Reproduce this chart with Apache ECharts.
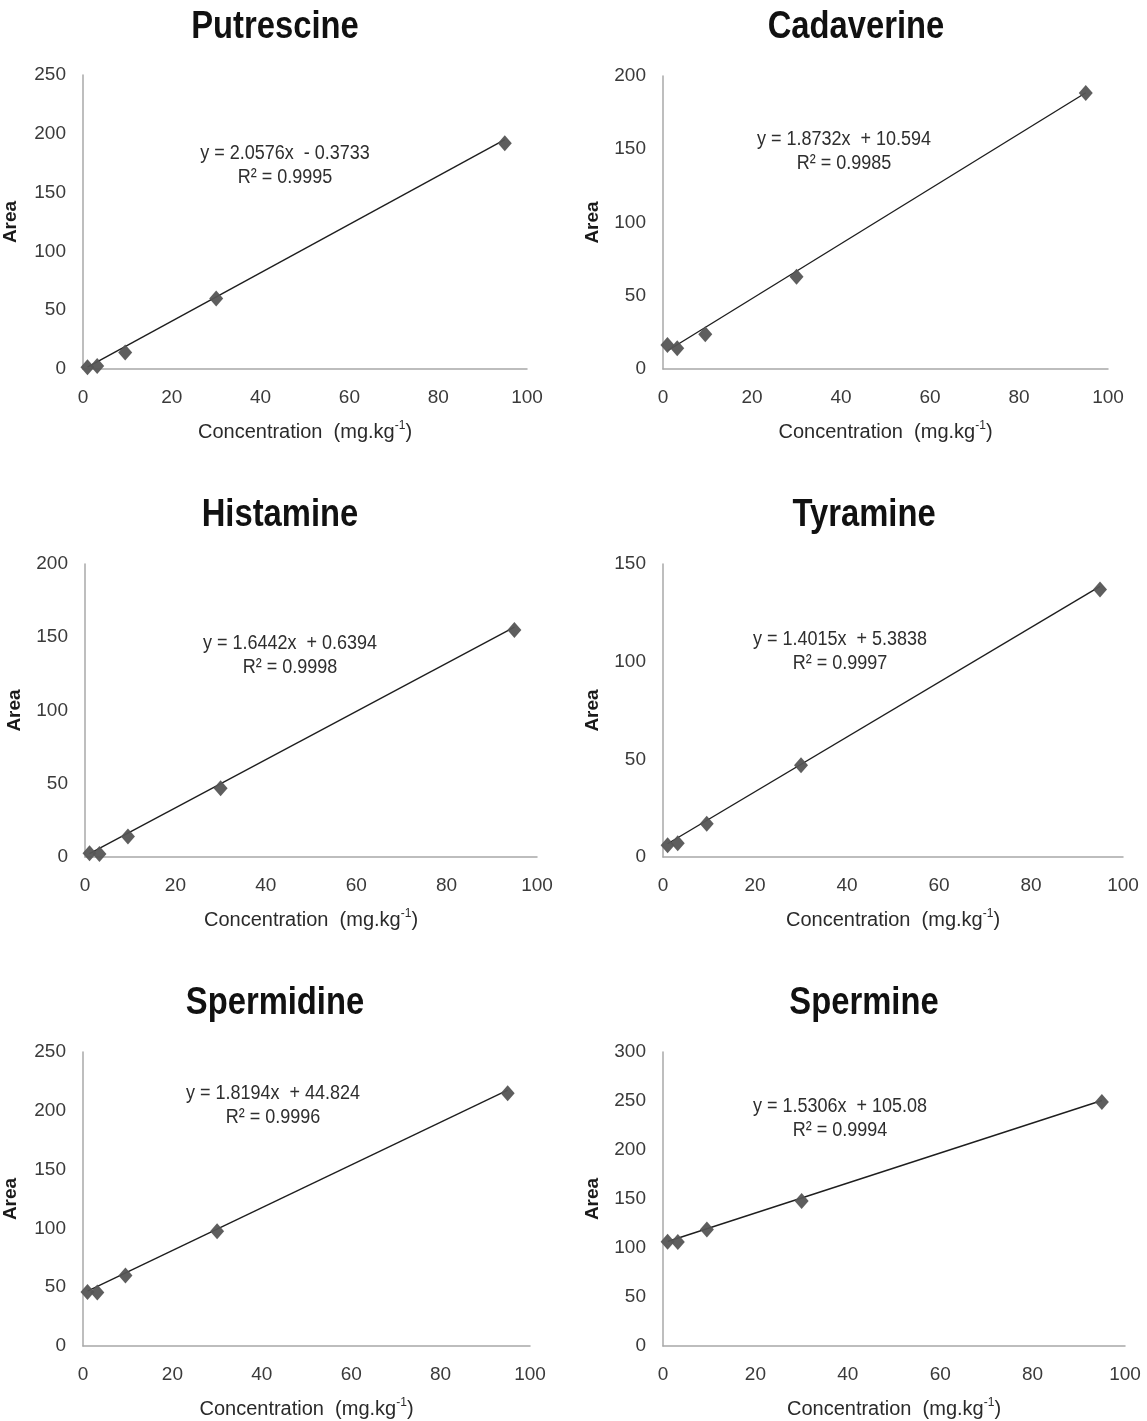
<!DOCTYPE html>
<html>
<head>
<meta charset="utf-8">
<script src="https://cdn.jsdelivr.net/npm/echarts@6/dist/echarts.min.js"></script>
<style>
html,body{margin:0;padding:0;background:#fff;}
#chart{width:1147px;height:1421px;}
</style>
</head>
<body>
<div id="chart"></div>
<script>
// ---- data ----
const panelNames = ['Putrescine', 'Cadaverine', 'Histamine', 'Tyramine', 'Spermidine', 'Spermine'];
const concentrations = [1, 3.2, 9.5, 30, 95];
const putrescineArea = [1.5, 2.5, 14, 60, 192];
const cadaverineArea = [16.4, 14.1, 23.7, 63, 188.4];
const histamineArea = [2.5, 2, 14, 47, 155];
const tyramineArea = [6, 7, 17, 47, 137];
const spermidineArea = [46, 45.5, 60, 97.5, 215];
const spermineArea = [106.5, 106, 119, 148, 249];
const areaSeries = [putrescineArea, cadaverineArea, histamineArea, tyramineArea, spermidineArea, spermineArea];
const slopes = [2.0576, 1.8732, 1.6442, 1.4015, 1.8194, 1.5306];
const intercepts = [-0.3733, 10.594, 0.6394, 5.3838, 44.824, 105.08];
const equationTexts = ['y = 2.0576x  - 0.3733', 'y = 1.8732x  + 10.594', 'y = 1.6442x  + 0.6394', 'y = 1.4015x  + 5.3838', 'y = 1.8194x  + 44.824', 'y = 1.5306x  + 105.08'];
const r2Texts = ['R² = 0.9995', 'R² = 0.9985', 'R² = 0.9998', 'R² = 0.9997', 'R² = 0.9996', 'R² = 0.9994'];
const yMax = [250, 200, 200, 150, 250, 300];
const xTicks = [0, 20, 40, 60, 80, 100];

// ---- layout ----
const grids = [
  {left: 81, top: 75, width: 446, height: 294},
  {left: 663, top: 76, width: 445, height: 293},
  {left: 85, top: 564, width: 452, height: 293},
  {left: 663, top: 564, width: 460, height: 293},
  {left: 81, top: 1052, width: 449, height: 294},
  {left: 663, top: 1052, width: 462, height: 294}
];
const titlePos = [[275, 27], [856, 27], [280, 515], [864, 515], [275, 1003], [864, 1003]];
const eqPos = [[285, 153], [844, 139], [290, 643], [840, 639], [273, 1093], [840, 1106]];
const areaGap = [63, 61, 61, 61, 63, 61];

const FONT = '"Liberation Sans Narrow", "Arial Narrow", "Liberation Sans", Arial, sans-serif';

const chart = echarts.init(document.getElementById('chart'));

const xAxes = [], yAxes = [], series = [], graphics = [];
grids.forEach((g, i) => {
  xAxes.push({
    gridIndex: i, type: 'value', min: xTicks[0], max: xTicks[xTicks.length - 1], interval: 20,
    splitLine: {show: false}, axisTick: {show: false},
    axisLine: {lineStyle: {color: '#a8a8a8', width: 1.5}},
    axisLabel: {margin: 19, fontFamily: FONT, fontSize: 19, color: '#3a3a3a'},
    name: '{n|Concentration  (mg.kg}{s|-1}{n|)}',
    nameLocation: 'middle', nameGap: 51,
    nameTextStyle: {
      rich: {
        n: {fontFamily: FONT, fontSize: 20, color: '#2a2a2a', verticalAlign: 'bottom', lineHeight: 22},
        s: {fontFamily: FONT, fontSize: 12, color: '#2a2a2a', verticalAlign: 'top', lineHeight: 22, padding: [0, 0, 10, 0]}
      }
    }
  });
  yAxes.push({
    gridIndex: i, type: 'value', min: 0, max: yMax[i], interval: 50,
    splitLine: {show: false}, axisTick: {show: false},
    axisLine: {show: true, lineStyle: {color: '#a8a8a8', width: 1.5}},
    axisLabel: {margin: 17, fontFamily: FONT, fontSize: 19, color: '#3a3a3a'},
    name: 'Area', nameLocation: 'middle', nameGap: areaGap[i], nameRotate: 90,
    nameTextStyle: {fontFamily: 'Liberation Sans, Arial, sans-serif', fontWeight: 'bold', fontSize: 19, color: '#1a1a1a'}
  });
  const xs = concentrations;
  const x0 = xs[0], x1 = xs[xs.length - 1];
  series.push({
    type: 'line', xAxisIndex: i, yAxisIndex: i, silent: true,
    symbol: 'none', lineStyle: {color: '#1e1e1e', width: 1.4}, z: 2,
    data: [[x0, slopes[i] * x0 + intercepts[i]], [x1, slopes[i] * x1 + intercepts[i]]]
  });
  series.push({
    type: 'scatter', xAxisIndex: i, yAxisIndex: i, symbol: 'diamond', symbolSize: [14, 16],
    itemStyle: {color: '#555555', opacity: 0.95}, z: 3,
    data: xs.map((x, k) => [x, areaSeries[i][k]])
  });
  graphics.push({
    type: 'text', x: titlePos[i][0], y: titlePos[i][1], scaleX: 0.84,
    style: {text: panelNames[i], font: 'bold 39px ' + FONT, fill: '#111', textAlign: 'center', textVerticalAlign: 'middle'}
  });
  graphics.push({
    type: 'text', x: eqPos[i][0], y: eqPos[i][1], scaleX: 0.9,
    style: {text: equationTexts[i], font: '20px ' + FONT, fill: '#2e2e2e', textAlign: 'center', textVerticalAlign: 'middle'}
  });
  graphics.push({
    type: 'text', x: eqPos[i][0], y: eqPos[i][1] + 24, scaleX: 0.9,
    style: {text: r2Texts[i], font: '20px ' + FONT, fill: '#2e2e2e', textAlign: 'center', textVerticalAlign: 'middle'}
  });
});

chart.setOption({
  backgroundColor: '#ffffff',
  animation: false,
  grid: grids,
  xAxis: xAxes,
  yAxis: yAxes,
  series: series,
  graphic: graphics
});
</script>
</body>
</html>
